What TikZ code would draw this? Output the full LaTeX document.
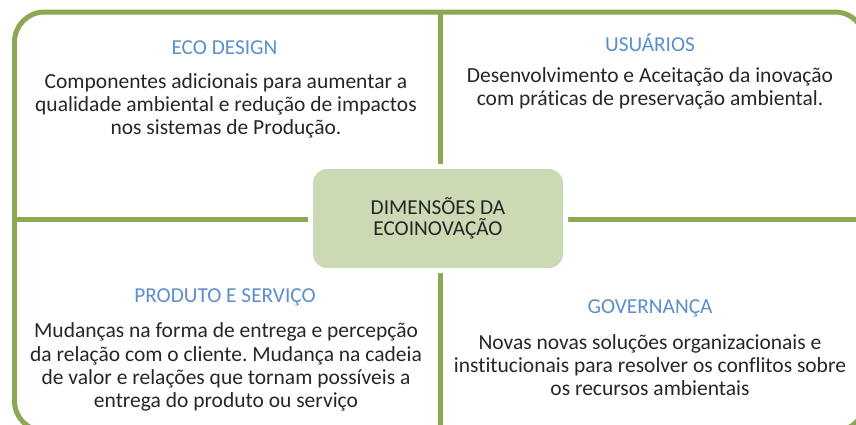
\documentclass[tikz,border=0pt]{standalone}
\usepackage{fontspec}
\setmainfont{Carlito}[Ligatures={NoCommon,NoContextual}, Contextuals=NoAlternate]
\frenchspacing
\definecolor{lineGreen}{HTML}{8CA852}
\definecolor{boxGreen}{HTML}{CBDAB4}
\definecolor{titleBlue}{HTML}{5B8FCB}
\definecolor{bodyText}{HTML}{262626}
\tikzset{
  quadline/.style={draw=lineGreen, line width=5pt},
  titletext/.style={text=titleBlue, font=\fontsize{21.3}{23}\selectfont, inner sep=0pt},
  bodytext/.style={text=bodyText, font=\fontsize{21.5}{23.2}\selectfont, align=center, inner sep=0pt},
  centerbox/.style={fill=boxGreen, rounded corners=14pt, minimum width=250pt, minimum height=99pt, text=bodyText, font=\fontsize{21.3}{21.5}\selectfont, align=center, inner sep=0pt}
}
\begin{document}
\begin{tikzpicture}[x=1pt,y=-1pt]
\useasboundingbox (0,0) rectangle (856,424);
\clip (0,0) rectangle (856,424);
% outer frame
\draw[quadline, rounded corners=30pt] (14.5,12) rectangle (865,431);
% dividers
\draw[quadline] (440,12) -- (440,431);
\draw[quadline] (14.5,219.5) -- (865,219.5);
% white gap around center box
\fill[white, rounded corners=18pt] (308,164) rectangle (568,273);
% center
\node[centerbox] (center) at (438,218.5) {DIMENSÕES DA\\ECOINOVAÇÃO};
% titles
\node[titletext] (t1) at (224.5,48) {ECO DESIGN};
\node[titletext] (t2) at (650,43) {USUÁRIOS};
\node[titletext] (t3) at (225,297) {PRODUTO E SERVIÇO};
\node[titletext] (t4) at (650,308) {GOVERNANÇA};
% bodies
\node[bodytext] (b1) at (226,106) {Componentes adicionais para aumentar a\\qualidade ambiental e redução de impactos\\nos sistemas de Produção.};
\node[bodytext] (b2) at (650,88) {Desenvolvimento e Aceitação da inovação\\com práticas de preservação ambiental.};
\node[bodytext] (b3) at (226,367) {Mudanças na forma de entrega e percepção\\da relação com o cliente. Mudança na cadeia\\de valor e relações que tornam possíveis a\\entrega do produto ou serviço};
\node[bodytext] (b4) at (650,365) {Novas novas soluções organizacionais e\\institucionais para resolver os conflitos sobre\\os recursos ambientais};
\end{tikzpicture}
\end{document}
